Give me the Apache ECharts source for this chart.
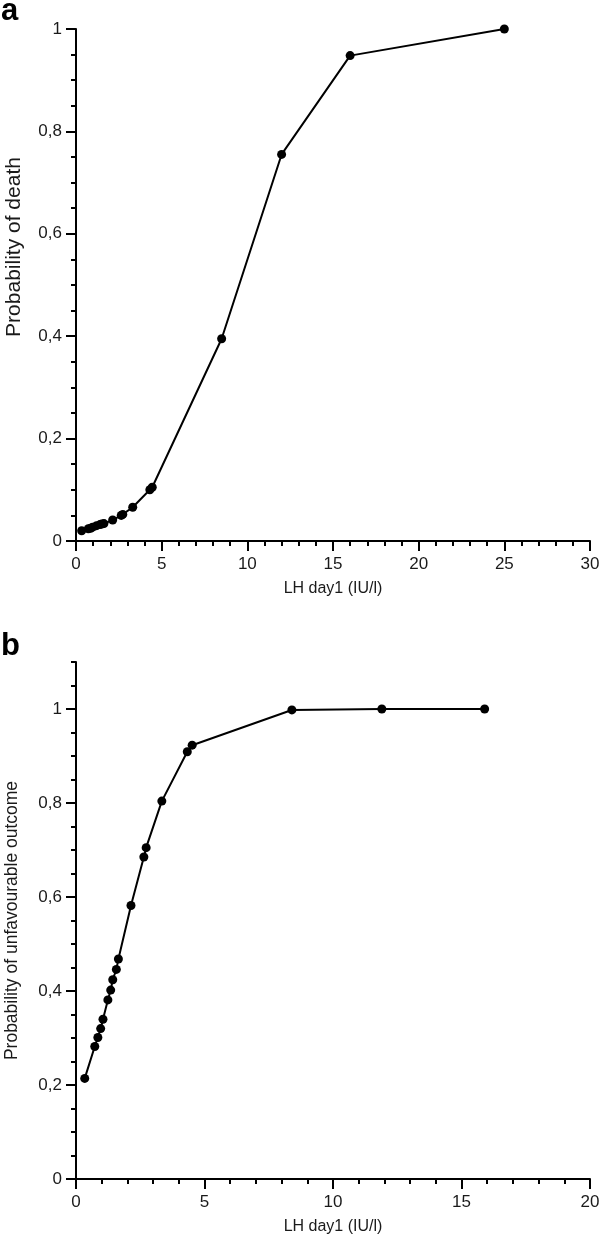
<!DOCTYPE html>
<html>
<head>
<meta charset="utf-8">
<script src="https://cdn.jsdelivr.net/npm/echarts@6/dist/echarts.min.js"></script>
<style>
html,body{margin:0;padding:0;background:#fff;}
#chart{width:600px;height:1239px;}
</style>
</head>
<body>
<div id="chart"></div>
<script>
// Panel a: probability of death vs LH day1
const lhA = [0.33, 0.72, 0.85, 0.97, 1.2, 1.4, 1.5, 1.63, 2.14, 2.64, 2.73, 3.31, 4.31, 4.45, 8.5, 12, 16, 25];
const deathA = [0.020, 0.024, 0.025, 0.027, 0.030, 0.032, 0.033, 0.034, 0.041, 0.050, 0.052, 0.066, 0.100, 0.105, 0.395, 0.755, 0.948, 1.0];
// Panel b: probability of unfavourable outcome vs LH day1
const lhB = [0.34, 0.73, 0.85, 0.96, 1.05, 1.24, 1.35, 1.43, 1.57, 1.65, 2.14, 2.64, 2.73, 3.34, 4.33, 4.52, 8.4, 11.9, 15.9];
const unfavB = [0.214, 0.282, 0.301, 0.320, 0.340, 0.381, 0.402, 0.424, 0.446, 0.468, 0.582, 0.685, 0.705, 0.804, 0.909, 0.923, 0.998, 1.0, 1.0];
const yTicksB = [0, 0.2, 0.4, 0.6, 0.8, 1.0];
const xName = 'LH day1 (IU/l)';
const yNameA = 'Probability of death';
const yNameB = 'Probability of unfavourable outcome';

const FONT = '"Liberation Sans", Arial, sans-serif';
const TXT = '#1a1a1a';
const fmtY = v => String(+Number(v).toFixed(2)).replace('.', ',');
const axisLine = {show: true, onZero: false, lineStyle: {color: '#000', width: 2}};
const labelStyle = {color: TXT, fontSize: 17, fontFamily: FONT};
const nameStyle = {color: TXT, fontSize: 16, fontFamily: FONT};

const chart = echarts.init(document.getElementById('chart'), null, {renderer: 'canvas'});
chart.setOption({
  animation: false,
  backgroundColor: '#fff',
  graphic: [
    {type: 'text', left: 1, top: -4, style: {text: 'a', font: 'bold 31px ' + FONT, fill: '#000'}},
    {type: 'text', left: 1, top: 631, style: {text: 'b', font: 'bold 31px ' + FONT, fill: '#000'}},
    {type: 'text', x: 14, y: 247, rotation: Math.PI / 2,
     style: {text: yNameA, font: '21px ' + FONT, fill: TXT, align: 'center', verticalAlign: 'middle'}}
  ],
  grid: [
    {left: 76, width: 514, top: 29, height: 512, outerBoundsMode: 'none'},
    {left: 76, width: 514, top: 662, height: 517, outerBoundsMode: 'none'}
  ],
  xAxis: [
    {type: 'value', gridIndex: 0, position: 'bottom', min: 0, max: 30, interval: 5,
     name: xName, nameLocation: 'middle', nameGap: 40, nameTextStyle: nameStyle,
     axisLine: axisLine, axisTick: {length: 10, lineStyle: {color: '#000', width: 2}},
     minorTick: {show: true, splitNumber: 5, length: 5, lineStyle: {color: '#000', width: 2}},
     axisLabel: Object.assign({margin: 15}, labelStyle), splitLine: {show: false}},
    {type: 'value', gridIndex: 1, position: 'bottom', min: 0, max: 20, interval: 5,
     name: xName, nameLocation: 'middle', nameGap: 40, nameTextStyle: nameStyle,
     axisLine: axisLine, axisTick: {length: 10, lineStyle: {color: '#000', width: 2}},
     minorTick: {show: true, splitNumber: 5, length: 5, lineStyle: {color: '#000', width: 2}},
     axisLabel: Object.assign({margin: 15}, labelStyle), splitLine: {show: false}}
  ],
  yAxis: [
    {type: 'value', gridIndex: 0, position: 'left', min: 0, max: 1, interval: 0.2,
     axisLine: axisLine, axisTick: {length: 10, lineStyle: {color: '#000', width: 2}},
     minorTick: {show: true, splitNumber: 4, length: 5, lineStyle: {color: '#000', width: 2}},
     axisLabel: Object.assign({margin: 14, formatter: fmtY}, labelStyle), splitLine: {show: false}},
    {type: 'value', gridIndex: 1, position: 'left', min: 0, max: 1.1, interval: 0.2,
     name: yNameB, nameLocation: 'middle', nameGap: 55, nameRotate: 90,
     nameTextStyle: Object.assign({}, nameStyle, {fontSize: 17.5}),
     axisLine: axisLine,
     axisTick: {length: 10, customValues: yTicksB, lineStyle: {color: '#000', width: 2}},
     axisLabel: Object.assign({margin: 14, formatter: fmtY, customValues: yTicksB}, labelStyle),
     splitLine: {show: false}},
    {type: 'value', gridIndex: 1, position: 'left', offset: 0, min: 0, max: 1.1, interval: 0.05,
     axisLine: {show: false}, axisTick: {length: 5, lineStyle: {color: '#000', width: 2}},
     axisLabel: {show: false}, splitLine: {show: false}}
  ],
  series: [
    {type: 'line', xAxisIndex: 0, yAxisIndex: 0, data: lhA.map((x, i) => [x, deathA[i]]),
     symbol: 'circle', symbolSize: 9, showSymbol: true,
     lineStyle: {color: '#000', width: 2}, itemStyle: {color: '#000'}},
    {type: 'line', xAxisIndex: 1, yAxisIndex: 1, data: lhB.map((x, i) => [x, unfavB[i]]),
     symbol: 'circle', symbolSize: 9, showSymbol: true,
     lineStyle: {color: '#000', width: 2}, itemStyle: {color: '#000'}}
  ]
});
</script>
</body>
</html>
